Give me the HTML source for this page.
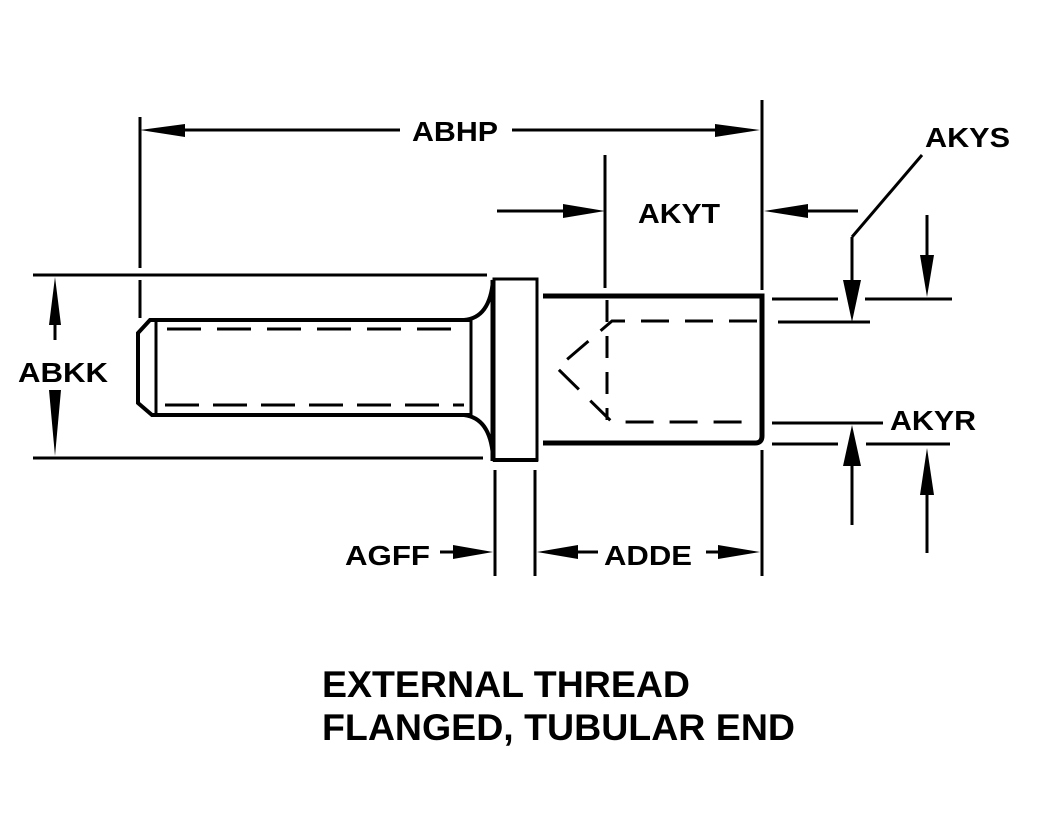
<!DOCTYPE html>
<html><head><meta charset="utf-8"><style>
html,body{margin:0;padding:0;background:#fff;}
svg{display:block;}
text{font-family:"Liberation Sans",Arial,sans-serif;font-weight:bold;fill:#000;}
</style></head><body>
<svg width="1037" height="834" viewBox="0 0 1037 834" xmlns="http://www.w3.org/2000/svg">
<g stroke="#000" fill="none" stroke-width="3">
<line x1="140" y1="117" x2="140" y2="268"/>
<line x1="140" y1="280" x2="140" y2="318"/>
<line x1="762" y1="100" x2="762" y2="290"/>
<line x1="182" y1="130" x2="400" y2="130"/>
<line x1="512" y1="130" x2="720" y2="130"/>
<line x1="605" y1="155" x2="605" y2="288"/>
<line x1="497" y1="211" x2="565" y2="211"/>
<line x1="805" y1="211" x2="858" y2="211"/>
<line x1="33" y1="275" x2="487" y2="275"/>
<line x1="33" y1="458" x2="483" y2="458"/>
<line x1="55" y1="318" x2="55" y2="340"/>
<line x1="55" y1="392" x2="55" y2="420"/>
<path d="M472 320 L150 320 L138 333 L138 403 L152 415 L472 415" stroke-width="4"/>
<line x1="156" y1="322" x2="156" y2="413"/>
<line x1="471" y1="320" x2="471" y2="415"/>
<line x1="167" y1="329" x2="464" y2="329" stroke-dasharray="34,16"/>
<line x1="165" y1="405" x2="464" y2="405" stroke-dasharray="34,14"/>
<path d="M464 320 Q490 318 493 280" stroke-width="4"/>
<path d="M464 415 Q490 418 493 456" stroke-width="4"/>
<rect x="494" y="279" width="43" height="181" stroke-width="3"/>
<line x1="493" y1="280" x2="493" y2="461" stroke-width="5"/>
<line x1="493" y1="460" x2="538" y2="460" stroke-width="4"/>
<path d="M543 296 L762 296 L762 436 Q762 443 755 443 L543 443" stroke-width="5"/>
<path d="M757 321 L612 321 L557 368 L612 422 L757 422" stroke-dasharray="28,16"/>
<line x1="607" y1="300" x2="607" y2="420" stroke-dasharray="22,14"/>
<line x1="922" y1="155" x2="852" y2="237"/>
<line x1="852" y1="237" x2="852" y2="290"/>
<line x1="772" y1="299" x2="838" y2="299"/>
<line x1="865" y1="299" x2="952" y2="299"/>
<line x1="778" y1="322" x2="870" y2="322"/>
<line x1="927" y1="215" x2="927" y2="265"/>
<line x1="772" y1="423" x2="883" y2="423"/>
<line x1="772" y1="444" x2="838" y2="444"/>
<line x1="866" y1="444" x2="950" y2="444"/>
<line x1="852" y1="460" x2="852" y2="525"/>
<line x1="927" y1="485" x2="927" y2="553"/>
<line x1="762" y1="450" x2="762" y2="576"/>
<line x1="495" y1="470" x2="495" y2="576"/>
<line x1="535" y1="470" x2="535" y2="576"/>
<line x1="440" y1="552" x2="455" y2="552"/>
<line x1="575" y1="552" x2="598" y2="552"/>
<line x1="706" y1="552" x2="720" y2="552"/>
</g>
<g fill="#000">
<polygon points="140,130 185,124 185,137"/>
<polygon points="760,130 715,124 715,137"/>
<polygon points="605,211 563,204 563,218"/>
<polygon points="764,211 808,204 808,218"/>
<polygon points="55,277 49,325 61,325"/>
<polygon points="55,456 49,390 61,390"/>
<polygon points="852,322 843,280 861,280"/>
<polygon points="927,297 920,255 934,255"/>
<polygon points="852,425 843,466 861,466"/>
<polygon points="927,448 920,495 934,495"/>
<polygon points="493,552 453,545 453,559"/>
<polygon points="537,552 578,545 578,559"/>
<polygon points="760,552 718,545 718,559"/>
</g>
<g font-size="28">
<text x="412" y="141" textLength="86" lengthAdjust="spacingAndGlyphs">ABHP</text>
<text x="638" y="223" textLength="82" lengthAdjust="spacingAndGlyphs">AKYT</text>
<text x="925" y="147" textLength="85" lengthAdjust="spacingAndGlyphs">AKYS</text>
<text x="18" y="382" textLength="90" lengthAdjust="spacingAndGlyphs">ABKK</text>
<text x="890" y="430" textLength="86" lengthAdjust="spacingAndGlyphs">AKYR</text>
<text x="345" y="565" textLength="85" lengthAdjust="spacingAndGlyphs">AGFF</text>
<text x="604" y="565" textLength="88" lengthAdjust="spacingAndGlyphs">ADDE</text>
</g>
<g font-size="37">
<text x="322" y="697" textLength="368" lengthAdjust="spacingAndGlyphs">EXTERNAL THREAD</text>
<text x="322" y="740" textLength="473" lengthAdjust="spacingAndGlyphs">FLANGED, TUBULAR END</text>
</g>
</svg>
</body></html>
